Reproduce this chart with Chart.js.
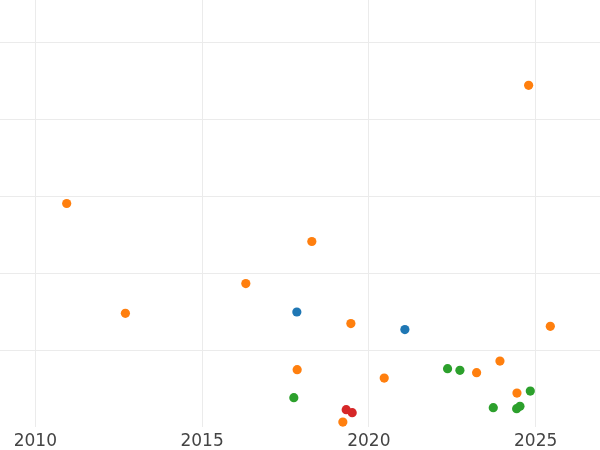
<!DOCTYPE html>
<html>
<head>
<meta charset="utf-8">
<script src="https://cdn.jsdelivr.net/npm/chart.js@4/dist/chart.umd.min.js"></script>
<style>
  html, body { margin: 0; padding: 0; background: #fff; }
  #wrap { width: 600px; height: 450px; }
</style>
</head>
<body>
<div id="wrap"><canvas id="scatterChart"></canvas></div>
<script>
// Points: [year, value]
const blueYears = [2017.84, 2021.08];
const blueValues = [15.01, 12.73];

const orangeYears = [2010.94, 2012.70, 2016.31, 2017.85, 2018.29, 2019.46, 2019.22,
    2020.46, 2023.23, 2023.93, 2024.44, 2025.44, 2024.79];
const orangeValues = [29.09, 14.84, 18.70, 7.53, 24.16, 13.51, 0.73,
    6.44, 7.14, 8.65, 4.49, 13.16, 44.42];

const greenYears = [2017.75, 2022.36, 2022.73, 2023.73, 2024.43, 2024.53, 2024.84];
const greenValues = [3.90, 7.66, 7.44, 2.60, 2.47, 2.77, 4.75];

const redYears = [2019.32, 2019.50];
const redValues = [2.34, 1.95];

const xTicks = [2010, 2015, 2020, 2025];
const yTicks = [10, 20, 30, 40, 50];

function toPoints(xs, ys) {
    return xs.map((x, i) => ({ x: x, y: ys[i] }));
}

function makeSet(label, xs, ys, color) {
    return {
        label: label,
        data: toPoints(xs, ys),
        backgroundColor: color,
        borderColor: color,
        borderWidth: 0,
        pointRadius: 4.6,
        pointHoverRadius: 4.6
    };
}

function initScatterChart() {
    const ctx = document.getElementById('scatterChart');
    if (!ctx) return;
    new Chart(ctx.getContext('2d'), {
        type: 'scatter',
        data: {
            datasets: [
                makeSet('blue', blueYears, blueValues, '#1f77b4'),
                makeSet('orange', orangeYears, orangeValues, '#ff7f0e'),
                makeSet('green', greenYears, greenValues, '#2ca02c'),
                makeSet('red', redYears, redValues, '#d62728')
            ]
        },
        options: {
            responsive: true,
            maintainAspectRatio: false,
            animation: false,
            layout: { padding: { top: 0, left: 0, right: 0, bottom: -5.5 }, autoPadding: false },
            plugins: {
                legend: { display: false },
                tooltip: { enabled: false }
            },
            scales: {
                x: {
                    type: 'linear',
                    min: 2008.94,
                    max: 2026.93,
                    afterBuildTicks: axis => {
                        axis.ticks = xTicks.map(v => ({ value: v }));
                    },
                    border: { display: false },
                    grid: {
                        color: '#ebebeb',
                        lineWidth: 1,
                        drawTicks: false
                    },
                    ticks: {
                        padding: 4,
                        color: '#444',
                        font: { family: 'DejaVu Sans', size: 17 },
                        callback: v => String(v)
                    }
                },
                y: {
                    type: 'linear',
                    min: 0.08,
                    max: 55.49,
                    afterBuildTicks: axis => {
                        axis.ticks = yTicks.map(v => ({ value: v }));
                    },
                    border: { display: false },
                    grid: {
                        color: '#ebebeb',
                        lineWidth: 1,
                        drawTicks: false
                    },
                    ticks: { display: false }
                }
            }
        }
    });
}

document.addEventListener('DOMContentLoaded', () => {
    initScatterChart();
});
</script>
</body>
</html>
